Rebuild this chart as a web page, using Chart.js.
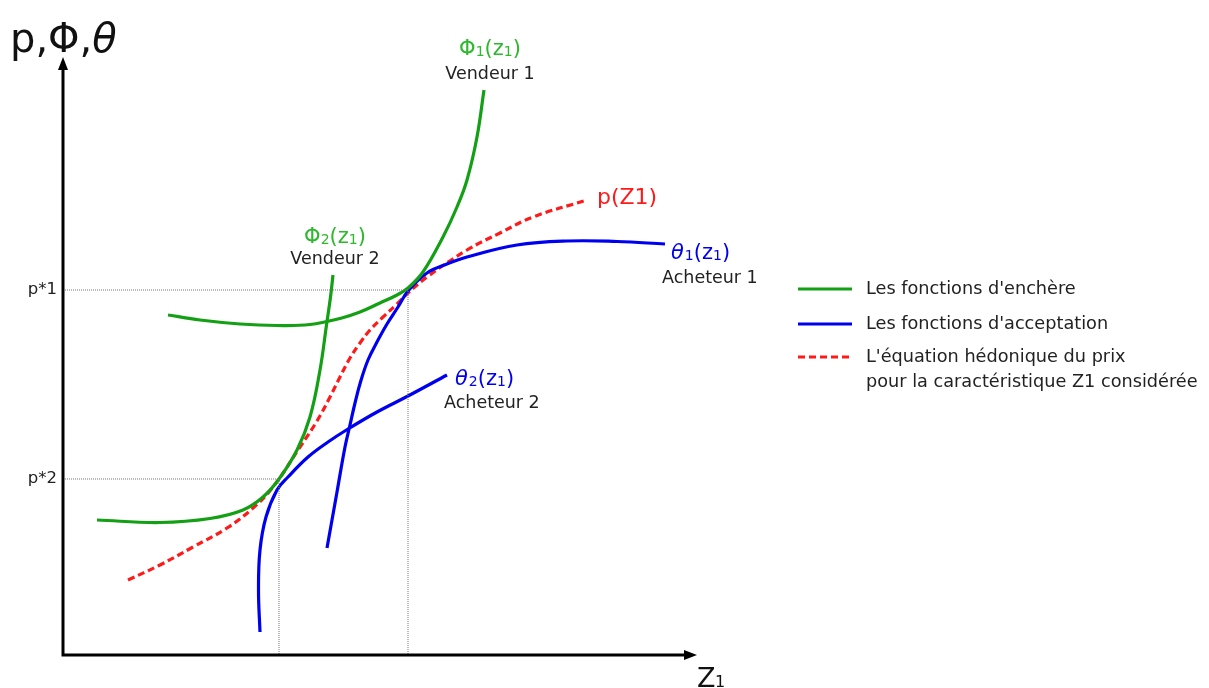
<!DOCTYPE html>
<html>
<head>
<meta charset="utf-8">
<script src="https://cdn.jsdelivr.net/npm/chart.js@4/dist/chart.umd.min.js"></script>
<style>
  html, body { margin: 0; padding: 0; background: #fff; }
  #wrap { width: 1209px; height: 688px; }
</style>
</head>
<body>
<div id="wrap"><canvas id="chart" width="1209" height="688"></canvas></div>
<script>
// curves (z1 along x, price along y)
const phi1X = [10.5, 13.7, 17.7, 21.4, 24.7, 27.7, 29.7, 31.7, 33.4, 34.5, 36.0, 38.0, 39.4, 40.4, 41.4, 42.1];
const phi1Y = [34.0, 33.5, 33.1, 32.95, 33.05, 33.65, 34.3, 35.2, 36.0, 36.7, 38.3, 41.8, 44.8, 47.5, 51.8, 56.5];

const phi2X = [3.4, 9.7, 14.7, 18.0, 20.0, 21.6, 23.4, 24.7, 25.7, 26.35, 26.75, 27.0];
const phi2Y = [13.5, 13.25, 13.65, 14.5, 15.8, 17.6, 20.5, 23.8, 28.5, 33.0, 35.8, 38.0];

const theta1X = [26.4, 27.4, 28.2, 28.7, 29.2, 29.75, 30.5, 31.4, 32.4, 33.5, 34.5, 36.4, 38.4, 40.4, 45.4, 50.4, 55.4, 60.2];
const theta1Y = [10.7, 16.3, 20.8, 23.0, 25.2, 27.3, 29.5, 31.3, 33.1, 34.8, 36.4, 38.2, 39.1, 39.8, 41.0, 41.4, 41.35, 41.1];

const theta2X = [19.7, 19.55, 19.7, 20.3, 21.4, 22.5, 24.5, 26.5, 28.5, 31.4, 34.5, 38.4];
const theta2Y = [2.3, 6.5, 10.5, 13.8, 16.5, 17.8, 19.8, 21.3, 22.6, 24.3, 25.9, 28.0];

const priceX = [6.5, 9.7, 13.0, 16.4, 19.0, 21.0, 23.7, 25.4, 26.7, 27.7, 28.7, 29.7, 30.7, 32.0, 33.4, 34.5, 36.4, 40.4, 43.7, 47.0, 52.4];
const priceY = [7.5, 9.0, 10.8, 12.7, 14.7, 16.8, 20.8, 23.4, 25.8, 27.8, 29.7, 31.2, 32.5, 33.8, 35.1, 36.2, 37.8, 40.5, 42.2, 43.8, 45.5];

// equilibrium points (z*, p*)
const eqZ = [34.5, 21.6];
const eqP = [36.5, 17.6];
const eqLabels = ['p*1', 'p*2'];

const legendLabels = ["Les fonctions d'enchère", "Les fonctions d'acceptation", ["L'équation hédonique du prix", "pour la caractéristique Z1 considérée"]];

const GREEN = '#14a014';
const GREEN_TXT = '#2db82d';
const BLUE = '#0000f0';
const RED = '#ff1a1a';
const FONT = '"DejaVu Sans", Verdana, sans-serif';

const pts = (xs, ys) => xs.map((x, i) => ({ x: x, y: ys[i] }));

const datasets = [
  { label: 'phi1', data: pts(phi1X, phi1Y), borderColor: GREEN },
  { label: 'phi2', data: pts(phi2X, phi2Y), borderColor: GREEN },
  { label: 'theta1', data: pts(theta1X, theta1Y), borderColor: BLUE },
  { label: 'theta2', data: pts(theta2X, theta2Y), borderColor: BLUE },
  { label: 'price', data: pts(priceX, priceY), borderColor: RED, borderDash: [7, 4] }
];
datasets.forEach(d => { d.borderWidth = 3.2; d.tension = 0.4; });
eqZ.forEach((z, i) => {
  datasets.unshift({
    label: 'guide' + i,
    data: [{ x: 0, y: eqP[i] }, { x: z, y: eqP[i] }, { x: z, y: 0 }],
    borderColor: '#777', borderWidth: 1, borderDash: [1, 1], tension: 0
  });
});
datasets.forEach(d => { d.showLine = true; d.pointRadius = 0; d.fill = false; });

// text notes, anchored in data units; parts: [text, 'sub' | 'it' | undefined]
const notes = [
  { parts: [['Φ'], ['1', 'sub'], ['(z'], ['1', 'sub'], [')']], x: 42.7, y: 60.8, color: GREEN_TXT, size: 21, align: 'center' },
  { parts: [['Vendeur 1']], x: 42.7, y: 58.2, color: '#222', size: 17.5, align: 'center' },
  { parts: [['Φ'], ['2', 'sub'], ['(z'], ['1', 'sub'], [')']], x: 27.2, y: 42.0, color: GREEN_TXT, size: 21, align: 'center' },
  { parts: [['Vendeur 2']], x: 27.2, y: 39.7, color: '#222', size: 17.5, align: 'center' },
  { parts: [['p(Z1)']], x: 53.4, y: 45.9, color: RED, size: 22, align: 'left' },
  { parts: [['θ', 'it'], ['1', 'sub'], ['(z'], ['1', 'sub'], [')']], x: 60.8, y: 40.4, color: BLUE, size: 21, align: 'left' },
  { parts: [['Acheteur 1']], x: 59.9, y: 37.8, color: '#222', size: 17.5, align: 'left' },
  { parts: [['θ', 'it'], ['2', 'sub'], ['(z'], ['1', 'sub'], [')']], x: 39.2, y: 27.8, color: BLUE, size: 21, align: 'left' },
  { parts: [['Acheteur 2']], x: 38.1, y: 25.3, color: '#222', size: 17.5, align: 'left' }
];

function partFont(p, size) {
  if (p[1] === 'sub') return Math.round(size * 0.68) + 'px ' + FONT;
  if (p[1] === 'it') return 'italic ' + size + 'px ' + FONT;
  return size + 'px ' + FONT;
}

function drawParts(ctx, parts, x, y, size, align) {
  const widths = parts.map(p => { ctx.font = partFont(p, size); return ctx.measureText(p[0]).width + (p[1] === 'it' ? 1 : 0); });
  const total = widths.reduce((a, b) => a + b, 0);
  let cx = align === 'center' ? x - total / 2 : x;
  ctx.textAlign = 'left';
  ctx.textBaseline = 'alphabetic';
  const base = y + size * 0.36;
  parts.forEach((p, i) => {
    ctx.font = partFont(p, size);
    ctx.fillText(p[0], cx, base + (p[1] === 'sub' ? size * 0.05 : 0));
    cx += widths[i];
  });
}

const sketch = {
  id: 'sketch',
  afterDraw(chart) {
    const ctx = chart.ctx;
    const xs = chart.scales.x, ys = chart.scales.y;
    const x0 = xs.getPixelForValue(0), y0 = ys.getPixelForValue(0);
    const yTop = ys.getPixelForValue(59.8), xEnd = xs.getPixelForValue(63.4);
    ctx.save();
    // axes with arrows
    ctx.strokeStyle = '#000';
    ctx.fillStyle = '#000';
    ctx.lineWidth = 3;
    ctx.beginPath();
    ctx.moveTo(x0, yTop + 10); ctx.lineTo(x0, y0); ctx.lineTo(xEnd - 10, y0);
    ctx.stroke();
    ctx.beginPath();
    ctx.moveTo(x0, yTop); ctx.lineTo(x0 - 5, yTop + 13); ctx.lineTo(x0 + 5, yTop + 13); ctx.closePath();
    ctx.fill();
    ctx.beginPath();
    ctx.moveTo(xEnd, y0); ctx.lineTo(xEnd - 13, y0 - 5); ctx.lineTo(xEnd - 13, y0 + 5); ctx.closePath();
    ctx.fill();

    // axis titles
    ctx.fillStyle = '#111';
    drawParts(ctx, [['p,Φ,'], ['θ', 'it']], 10, 38, 40, 'left');
    ctx.font = '27px ' + FONT;
    ctx.textAlign = 'left';
    ctx.textBaseline = 'alphabetic';
    ctx.fillText('Z', 697, 687);
    ctx.font = '16px ' + FONT;
    ctx.fillText('1', 715, 687);

    // p* ticks
    ctx.font = '16.5px ' + FONT;
    ctx.textAlign = 'right';
    ctx.textBaseline = 'middle';
    ctx.fillStyle = '#222';
    eqP.forEach((p, i) => ctx.fillText(eqLabels[i], x0 - 6, ys.getPixelForValue(p)));

    // curve notes
    notes.forEach(n => {
      ctx.fillStyle = n.color;
      drawParts(ctx, n.parts, xs.getPixelForValue(n.x), ys.getPixelForValue(n.y), n.size, n.align);
    });

    // legend
    const legendColors = [GREEN, BLUE, RED];
    const rowY = [289, 324, 357];
    ctx.font = '17.7px ' + FONT;
    ctx.textAlign = 'left';
    ctx.textBaseline = 'middle';
    legendLabels.forEach((lab, i) => {
      ctx.strokeStyle = legendColors[i];
      ctx.lineWidth = 3;
      ctx.setLineDash(i === 2 ? [7, 4] : []);
      ctx.beginPath();
      ctx.moveTo(798, rowY[i]); ctx.lineTo(852, rowY[i]);
      ctx.stroke();
      ctx.setLineDash([]);
      ctx.fillStyle = '#222';
      const lines = Array.isArray(lab) ? lab : [lab];
      lines.forEach((t, k) => ctx.fillText(t, 866, rowY[i] + k * 25));
    });
    ctx.restore();
  }
};

new Chart(document.getElementById('chart'), {
  type: 'scatter',
  data: { datasets: datasets },
  options: {
    responsive: false,
    animation: false,
    layout: { padding: { left: 63, right: 0, top: 0, bottom: 33 } },
    plugins: { legend: { display: false }, tooltip: { enabled: false } },
    scales: {
      x: { type: 'linear', min: 0, max: 114.6, display: false },
      y: { type: 'linear', min: 0, max: 65.5, display: false }
    }
  },
  plugins: [sketch]
});
</script>
</body>
</html>
